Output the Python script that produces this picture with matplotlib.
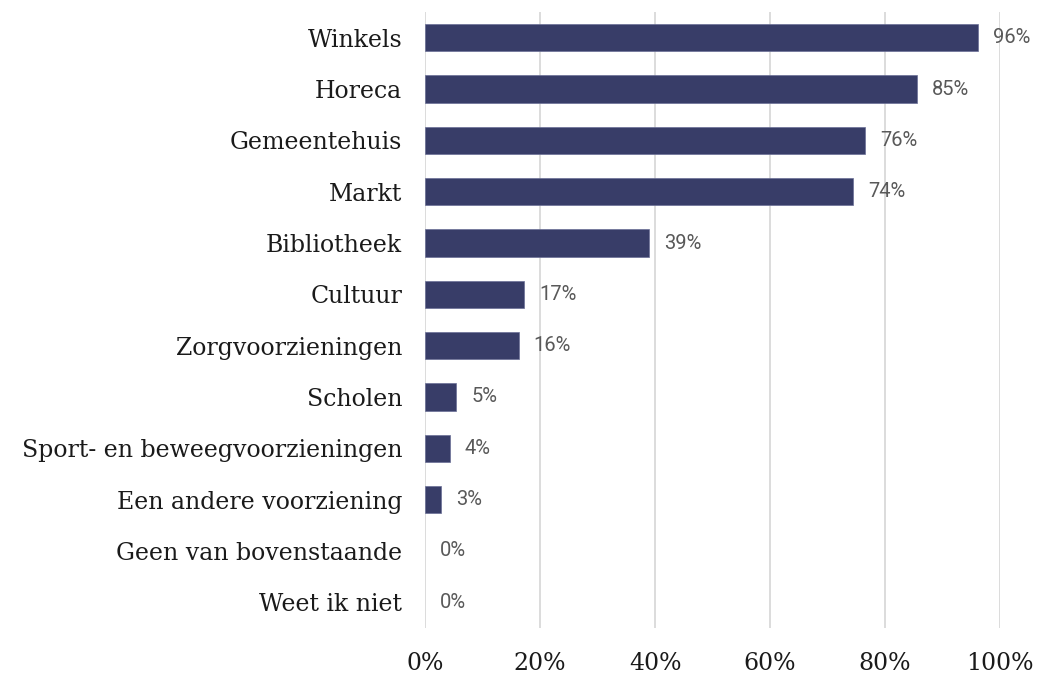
import matplotlib.pyplot as plt

# Data
categories = ['Winkels', 'Horeca', 'Gemeentehuis', 'Markt', 'Bibliotheek', 'Cultuur',
              'Zorgvoorzieningen', 'Scholen', 'Sport- en beweegvoorzieningen',
              'Een andere voorziening', 'Geen van bovenstaande', 'Weet ik niet']
values = [96.2, 85.6, 76.6, 74.4, 39.0, 17.2, 16.3, 5.4, 4.3, 2.8, 0, 0]
labels = ['96%', '85%', '76%', '74%', '39%', '17%', '16%', '5%', '4%', '3%', '0%', '0%']
xticks = [0, 20, 40, 60, 80, 100]

fig = plt.figure(figsize=(10.37, 6.73), dpi=100)
ax = fig.add_axes([0.41, 0.067, 0.5543, 0.915])

y = list(range(len(categories)))
widths = [0.5 if v > 0 else 0 for v in values]
ax.barh(y, values, height=0.53, color='#383d68', edgecolor='#6a6f95', linewidth=widths, zorder=3)

for yi, v, lab in zip(y, values, labels):
    ax.text(v + 2.6, yi, lab, va='center', ha='left', fontsize=14.5, color='#595959',
            family='Roboto')

ax.set_ylim(len(categories) - 0.5, -0.5)
ax.set_xlim(0, 100)
ax.set_yticks(y)
ax.set_yticklabels(categories, family='DejaVu Serif', fontsize=17, color='#1a1a1a')
ax.set_xticks(xticks)
ax.set_xticklabels([f'{t}%' for t in xticks], family='DejaVu Serif', fontsize=17, color='#1a1a1a')
ax.tick_params(axis='both', length=0)
ax.tick_params(axis='x', pad=17)
ax.tick_params(axis='y', pad=16.5)

ax.grid(axis='x', color='#d9d9d9', linewidth=1.3, zorder=0)
for s in ax.spines.values():
    s.set_visible(False)

plt.savefig('out.png', dpi=100)
